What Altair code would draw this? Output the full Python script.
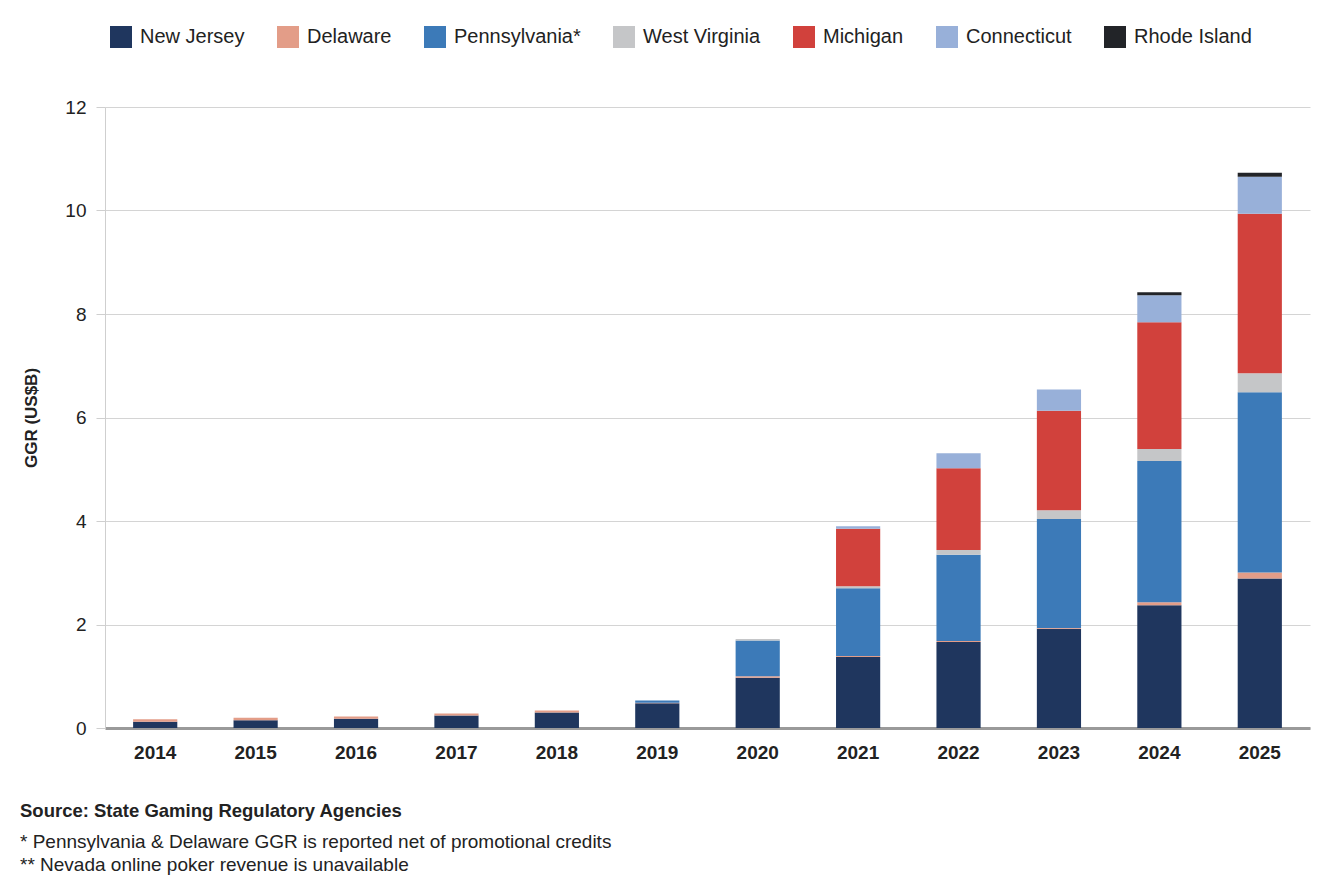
import altair as alt
import pandas as pd

# Online casino gross gaming revenue by state (US$ billions)
years = ["2014", "2015", "2016", "2017", "2018", "2019",
         "2020", "2021", "2022", "2023", "2024", "2025"]
states = ["New Jersey", "Delaware", "Pennsylvania*", "West Virginia",
          "Michigan", "Connecticut", "Rhode Island"]
colors = ["#1f365e", "#e39d88", "#3c7ab8", "#c5c6c8",
          "#d1413c", "#98b0d9", "#222428"]

new_jersey    = [0.12, 0.15, 0.18, 0.24, 0.30, 0.48, 0.97, 1.37, 1.66, 1.92, 2.37, 2.89]
delaware      = [0.05, 0.05, 0.04, 0.04, 0.04, 0.01, 0.03, 0.02, 0.02, 0.01, 0.06, 0.115]
pennsylvania  = [0.00, 0.00, 0.00, 0.00, 0.00, 0.04, 0.69, 1.31, 1.67, 2.11, 2.73, 3.485]
west_virginia = [0.00, 0.00, 0.00, 0.00, 0.00, 0.00, 0.03, 0.04, 0.09, 0.17, 0.23, 0.365]
michigan      = [0.00, 0.00, 0.00, 0.00, 0.00, 0.00, 0.00, 1.11, 1.58, 1.92, 2.45, 3.08]
connecticut   = [0.00, 0.00, 0.00, 0.00, 0.00, 0.00, 0.00, 0.05, 0.29, 0.41, 0.52, 0.715]
rhode_island  = [0.00, 0.00, 0.00, 0.00, 0.00, 0.00, 0.00, 0.00, 0.00, 0.00, 0.06, 0.08]

y_ticks = [0, 2, 4, 6, 8, 10, 12]

source_line = "Source: State Gaming Regulatory Agencies"
note_one = "* Pennsylvania & Delaware GGR is reported net of promotional credits"
note_two = "** Nevada online poker revenue is unavailable"

series = [new_jersey, delaware, pennsylvania, west_virginia,
          michigan, connecticut, rhode_island]
rows = []
for idx, (state, values) in enumerate(zip(states, series)):
    for yr, v in zip(years, values):
        if v > 0:
            rows.append({"year": yr, "state": state, "ggr": v, "stack_order": idx})
df = pd.DataFrame(rows)

FONT = "Liberation Sans, Arial, sans-serif"
TEXT_COLOR = "#222222"

bars = alt.Chart(df).mark_bar().encode(
    x=alt.X(
        "year:N", sort=years, title=None,
        scale=alt.Scale(paddingInner=0.56, paddingOuter=0.28),
        axis=alt.Axis(labelAngle=0, labelFont=FONT, labelFontSize=19,
                      labelFontWeight="bold", labelColor=TEXT_COLOR,
                      labelPadding=15, ticks=False,
                      domainColor="#9a9a9a", domainWidth=3),
    ),
    y=alt.Y(
        "ggr:Q", stack="zero", title="GGR (US$B)",
        scale=alt.Scale(domain=[0, 12], nice=False),
        axis=alt.Axis(values=y_ticks, format="d", labelFont=FONT,
                      labelFontSize=19, labelColor=TEXT_COLOR,
                      labelPadding=10, tickSize=9, tickColor="#cfcfcf",
                      domainColor="#cfcfcf", gridColor="#d4d4d4",
                      titleFont=FONT, titleFontSize=17, titleFontWeight="bold",
                      titleColor=TEXT_COLOR, titlePadding=24),
    ),
    color=alt.Color(
        "state:N",
        scale=alt.Scale(domain=states, range=colors),
        legend=alt.Legend(
            title=None, orient="none", direction="horizontal",
            legendX=5, legendY=-81,
            symbolType="square", symbolSize=484, symbolStrokeWidth=0,
            labelFont=FONT, labelFontSize=20, labelColor=TEXT_COLOR,
            labelOffset=8, columnPadding=32, labelLimit=300,
        ),
    ),
    order=alt.Order("stack_order:Q", sort="ascending"),
)

def note(text, y, size, bold=False):
    return alt.Chart(pd.DataFrame({"t": [text]})).mark_text(
        align="left", baseline="middle", font=FONT, fontSize=size,
        fontWeight="bold" if bold else "normal", color=TEXT_COLOR,
    ).encode(x=alt.value(-85), y=alt.value(y), text="t:N")

chart = alt.layer(
    bars,
    note(source_line, 704, 18.5, bold=True),
    note(note_one, 735, 19),
    note(note_two, 758, 19),
).properties(
    width=1205, height=621,
    autosize=alt.AutoSizeParams(type="none"),
    padding={"left": 105, "top": 107, "right": 28, "bottom": 168},
    background="white",
).configure_view(stroke=None)

chart.save("out.html", embed_options={"renderer": "svg", "actions": False})
